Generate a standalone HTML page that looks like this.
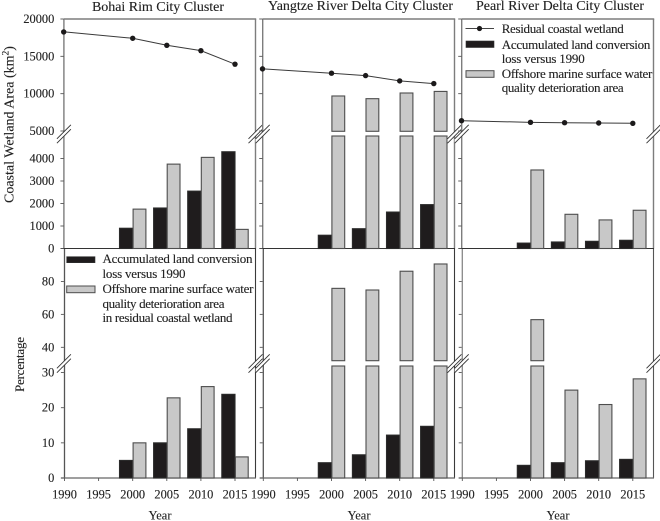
<!DOCTYPE html>
<html>
<head>
<meta charset="utf-8">
<title>Coastal wetland area and percentage by city cluster</title>
<style>
html,body{margin:0;padding:0;background:#fff;width:660px;height:521px;overflow:hidden}
svg{display:block}
text{font-family:"Liberation Serif",serif;fill:#222;stroke:#222;stroke-width:0.12}
</style>
</head>
<body>
<svg id="chart" width="660" height="521" viewBox="0 0 660 521" xmlns="http://www.w3.org/2000/svg">
  <g id="marks"></g>
  <g font-size="14">
    <text x="92" y="11" textLength="132">Bohai Rim City Cluster</text>
    <text x="268" y="10" textLength="185">Yangtze River Delta City Cluster</text>
    <text x="476" y="10" textLength="168">Pearl River Delta City Cluster</text>
  </g>
  <text font-size="14" transform="translate(13.5,203) rotate(-90)">Coastal Wetland Area (km<tspan dy="-5" font-size="9.5">2</tspan><tspan dy="5">)</tspan></text>
  <text font-size="13" transform="translate(24,392) rotate(-90)" textLength="55">Percentage</text>
  <g font-size="12.5" text-anchor="middle">
    <text x="160" y="519.5">Year</text>
    <text x="359" y="519.5">Year</text>
    <text x="558" y="519.5">Year</text>
  </g>
  <g font-size="13">
    <g>
      <line x1="465.5" x2="494" y1="28.5" y2="28.5" stroke="#444" stroke-width="1"></line>
      <circle cx="479.5" cy="28.5" r="2.6" fill="#1c1a1b"></circle>
      <text x="501.7" y="33" textLength="122">Residual coastal wetland</text>
    </g>
    <g>
      <rect x="466" y="41" width="28" height="6.5" fill="#1f1c1d" stroke="#333" stroke-width="0.6"></rect>
      <text x="501.7" y="49" textLength="148.7">Accumulated land conversion</text>
      <text x="501.7" y="63" textLength="83">loss versus 1990</text>
    </g>
    <g>
      <rect x="466" y="70.7" width="28" height="6.6" fill="#c8c8c8" stroke="#4d4d4d" stroke-width="1"></rect>
      <text x="501.7" y="78" textLength="150.7">Offshore marine surface water</text>
      <text x="501.7" y="92" textLength="122">quality deterioration area</text>
    </g>
  </g>
  <g font-size="13">
    <g>
      <rect x="66.7" y="256.7" width="28.3" height="6" fill="#1f1c1d" stroke="#333" stroke-width="0.6"></rect>
      <text x="102.5" y="263" textLength="150">Accumulated land conversion</text>
      <text x="102.5" y="278" textLength="83">loss versus 1990</text>
    </g>
    <g>
      <rect x="66.7" y="286" width="28.3" height="6.7" fill="#c8c8c8" stroke="#4d4d4d" stroke-width="1"></rect>
      <text x="102.5" y="293" textLength="151">Offshore marine surface water</text>
      <text x="102.5" y="308" textLength="122">quality deterioration area</text>
      <text x="102.5" y="322" textLength="130">in residual coastal wetland</text>
    </g>
  </g>
</svg>
<script>
var panelNames = ['bohai', 'yangtze', 'pearl'];
var lineYears = [1990, 2000, 2005, 2010, 2015];
var barYears = [2000, 2005, 2010, 2015];
var xTickYears = [1990, 1995, 2000, 2005, 2010, 2015];

var residualBohai = [18270, 17420, 16480, 15760, 13950];
var residualYangtze = [13320, 12740, 12420, 11710, 11350];
var residualPearl = [6380, 6160, 6110, 6070, 6030];

var landLossBohai = [900, 1800, 2550, 4300];
var landLossYangtze = [590, 880, 1620, 1950];
var landLossPearl = [240, 290, 320, 365];

var offshoreBohai = [1750, 3750, 4050, 850];
var offshoreYangtze = [9690, 9330, 10090, 10300];
var offshorePearl = [3490, 1520, 1270, 1700];

var landPctBohai = [5, 10, 14, 23.8];
var landPctYangtze = [4.35, 6.6, 12.2, 14.7];
var landPctPearl = [3.6, 4.35, 4.9, 5.3];

var offshorePctBohai = [10, 22.8, 26, 6];
var offshorePctYangtze = [75.8, 74.8, 86.2, 90.6];
var offshorePctPearl = [56.8, 25, 20.9, 28.2];

var areaTicks = [0, 1000, 2000, 3000, 4000, 5000, 10000, 15000, 20000];
var pctTicks = [0, 10, 20, 30, 40, 60, 80];

var residualAll = [residualBohai, residualYangtze, residualPearl];
var landLossAll = [landLossBohai, landLossYangtze, landLossPearl];
var offshoreAll = [offshoreBohai, offshoreYangtze, offshorePearl];
var landPctAll = [landPctBohai, landPctYangtze, landPctPearl];
var offshorePctAll = [offshorePctBohai, offshorePctYangtze, offshorePctPearl];

var NS = 'http://www.w3.org/2000/svg';
var root = document.getElementById('marks');

var origin = [64.5, 263.3, 462.3];
var rightEdge = [255.5, 454.5, 653.5];
var AREA_BREAK = 5000;
var PCT_BREAK = 32;

function xPos(p, year) { return origin[p] + (year - 1990) * 6.82; }
function yArea(v) {
  return v >= AREA_BREAK ? 131 - (v - AREA_BREAK) * 112 / 15000 : 248.5 - v * 112.5 / 5000;
}
function yPct(v) {
  return v >= PCT_BREAK ? 360.5 - (v - PCT_BREAK) * 112 / 68 : 478 - v * 112.5 / 32;
}

function mk(tag, attrs) {
  var el = document.createElementNS(NS, tag);
  for (var k in attrs) el.setAttribute(k, attrs[k]);
  root.appendChild(el);
  return el;
}
function stroke(x1, y1, x2, y2, color, w) {
  var el = mk('line', { x1: x1, y1: y1, x2: x2, y2: y2, stroke: color, 'stroke-width': w });
  
  
  return el;
}
function label(x, y, txt, anchor) {
  var el = mk('text', { x: x, y: y, 'font-size': 12.4, 'text-anchor': anchor });
  el.textContent = txt;
  
  
  return el;
}
function drawBar(x, w, v, isBreak, breakVal, scale, base, upperBase, lowerTop, fill, edge, name) {
  var rects = [];
  if (isBreak && v > breakVal) {
    var t = scale(v);
    rects.push([x, t, w, upperBase - t]);
    rects.push([x, lowerTop, w, base - lowerTop]);
  } else {
    var t2 = scale(v);
    rects.push([x, t2, w, base - t2]);
  }
  rects.forEach(function (r) {
    var el = mk('rect', { x: r[0], y: r[1], width: r[2], height: r[3], fill: fill, stroke: edge, 'stroke-width': 1.1 });
    
    
  });
}
function drawBreak(cx, cy) {
  var bg = mk('polygon', { points: (cx - 7) + ',' + (cy + 5) + ' ' + (cx + 7) + ',' + (cy - 9) + ' ' + (cx + 7) + ',' + (cy - 5) + ' ' + (cx - 7) + ',' + (cy + 9), fill: '#fff' });
  
  
  [-2.2, 2.2].forEach(function (o) {
    var el = mk('line', { x1: cx - 7, y1: cy + 7 + o, x2: cx + 7, y2: cy - 7 + o, stroke: '#333', 'stroke-width': 0.9 });
    
    
  });
}

panelNames.forEach(function (name, p) {
  var L = origin[p] - 0.6, R = rightEdge[p];
  // Frames
  stroke(L, 19, R + 0.7, 19, '#7d7d7d', 1.5);
  stroke(L, 19, L, 248.5, '#7d7d7d', 1.4);
  stroke(R, 19, R, 248.5, '#7d7d7d', 1.4);
  stroke(L + 0.6, 248.5, L + 0.6, 478, p === 2 ? '#888' : '#555', 1.3);
  stroke(R, 248.5, R, 478, p === 2 ? '#555' : '#3a3a3a', 1.1);
  stroke(L - 3, 248.5, R + 0.5, 248.5, '#333', 1.1);
  stroke(L - 3, 478, R + 0.5, 478, '#666', 1.2);

  // Y ticks
  areaTicks.forEach(function (t) {
    var y = yArea(t);
    stroke(L - 3.5, y, L, y, '#555', 0.9);
    if (p === 0) label(54.3, y + 4, String(t), 'end');
  });
  pctTicks.forEach(function (t) {
    var y = yPct(t);
    stroke(L - 3, y, L, y, '#555', 0.9);
    if (p === 0) label(54.3, y + 4, String(t), 'end');
  });

  // X ticks
  xTickYears.forEach(function (yr) {
    var x = xPos(p, yr);
    stroke(x, 478, x, 481, '#555', 0.9);
    label(x, 498.7, String(yr), 'middle');
  });

  // Area bars
  barYears.forEach(function (yr, i) {
    var x = xPos(p, yr);
    drawBar(x - 13.2, 13.2, landLossAll[p][i], false, 0, yArea, 248.5, 0, 0, '#1f1c1d', '#2a2a2a', 'bar-land-loss-' + name);
    drawBar(x + 0.4, 12.8, offshoreAll[p][i], true, AREA_BREAK, yArea, 248.5, 131.3, 136, '#c8c8c8', '#4d4d4d', 'bar-offshore-' + name);
    drawBar(x - 13.2, 13.2, landPctAll[p][i], false, 0, yPct, 478, 0, 0, '#1f1c1d', '#2a2a2a', 'bar-land-percent-' + name);
    drawBar(x + 0.4, 12.8, offshorePctAll[p][i], true, PCT_BREAK, yPct, 478, 360.7, 366, '#c8c8c8', '#4d4d4d', 'bar-offshore-percent-' + name);
  });

  // Residual line
  var pts = lineYears.map(function (yr, i) {
    return xPos(p, yr) + ',' + yArea(residualAll[p][i]);
  }).join(' ');
  var pl = mk('polyline', { points: pts, fill: 'none', stroke: '#3a3a3a', 'stroke-width': 1 });
  
  
  lineYears.forEach(function (yr, i) {
    var c = mk('circle', { cx: xPos(p, yr) - (i === 0 ? 0.8 : 0), cy: yArea(residualAll[p][i]), r: 2.7, fill: '#1c1a1b' });
    
    
  });

  // Axis breaks
  drawBreak(L, 134);
  drawBreak(R, 134);
  drawBreak(L, 363.5);
  drawBreak(R, 363.5);
});
</script>
</body>
</html>
